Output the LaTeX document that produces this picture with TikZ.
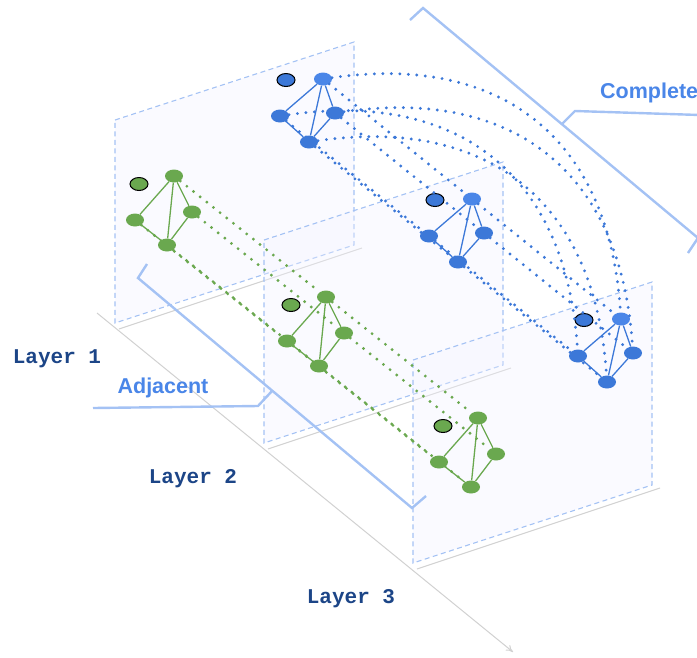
\documentclass[tikz,border=0pt]{standalone}
\usepackage{fontspec}
\setmainfont{Liberation Sans}
\newfontfamily\layerfont{Liberation Mono}
\usetikzlibrary{arrows.meta}
\usetikzlibrary{positioning}
\usetikzlibrary{shapes.geometric}
\definecolor{mygreen}{RGB}{106,168,79}
\definecolor{myblue}{RGB}{60,120,216}
\definecolor{lightblue}{RGB}{74,134,232}
\definecolor{bracecol}{RGB}{164,194,244}
\definecolor{navy}{RGB}{28,69,135}
\definecolor{planefill}{RGB}{242,242,255}

\begin{document}
\begin{tikzpicture}[x=1pt,y=-1pt,
		every node/.style={inner sep=0pt},
		vert/.style={ellipse,minimum width=18pt,minimum height=13pt,fill=#1},
		markvert/.style={vert=#1,draw=black,line width=1pt},
		tie/.style={draw=#1,line width=1.3pt},
		link/.style={draw=#1,line width=3.2pt,line cap=round,dash pattern=on 0pt off 8.5pt},
		layerplane/.style={draw=bracecol,dash pattern=on 5pt off 3.5pt,line width=1.1pt,fill=planefill,fill opacity=0.35},
		groundline/.style={draw=black!18,line width=1pt},
		bracket/.style={draw=bracecol,line width=2.4pt},
		layerlabel/.style={font=\layerfont\bfseries\fontsize{21}{21}\selectfont,text=navy,anchor=base},
		kindlabel/.style={font=\bfseries\fontsize{21.5}{22}\selectfont,text=lightblue,anchor=base}
	]

	\useasboundingbox (0,0) rectangle (697,657);

	% floor axis and the three layers
	\coordinate (axstart) at (97,313);
	\coordinate (axend) at (513,652);
	\draw[groundline,-{To[length=7pt,width=7pt]}] (axstart) -- (axend);

	\foreach \k in {0,1,2}{
		\begin{scope}[shift={(149*\k,120*\k)}]
			\draw[groundline] (119,329) -- (362,248);
			\draw[layerplane] (115,120) -- (354,42) -- (354,245) -- (115,323) -- cycle;
		\end{scope}
	}

	\foreach \k in {1,2,3}{
		\pgfmathsetmacro{\gx}{174+152*(\k-1)}
		\pgfmathsetmacro{\gy}{176+121*(\k-1)}
		\node[vert=mygreen] (g\k-t) at (\gx,\gy) {};
		\node[vert=mygreen] (g\k-l) at (\gx-39,\gy+44) {};
		\node[vert=mygreen] (g\k-r) at (\gx+18,\gy+36) {};
		\node[vert=mygreen] (g\k-b) at (\gx-7,\gy+69) {};
		\node[markvert=mygreen] (g\k-o) at (\gx-35,\gy+8) {};
		\pgfmathsetmacro{\bx}{323+149*(\k-1)}
		\pgfmathsetmacro{\by}{79+120*(\k-1)}
		\node[vert=lightblue] (b\k-t) at (\bx,\by) {};
		\node[vert=myblue] (b\k-l) at (\bx-43,\by+37) {};
		\node[vert=myblue] (b\k-r) at (\bx+12,\by+34) {};
		\node[vert=myblue] (b\k-b) at (\bx-14,\by+63) {};
		\node[markvert=myblue] (b\k-o) at (\bx-37,\by+1) {};
	}

	\foreach \k in {1,2,3}{
		\draw[tie=mygreen] (g\k-t) -- (g\k-l) -- (g\k-b) -- (g\k-r) -- (g\k-t) -- (g\k-b);
		\draw[tie=myblue] (b\k-t) -- (b\k-l) -- (b\k-b) -- (b\k-r) -- (b\k-t) -- (b\k-b);
	}

	\foreach \v in {t,l,r,b}{
		\draw[link=mygreen] (g1-\v) -- (g2-\v);
		\draw[link=mygreen] (g2-\v) -- (g3-\v);
		\draw[link=myblue] (b1-\v) -- (b2-\v);
		\draw[link=myblue] (b2-\v) -- (b3-\v);
		\draw[link=myblue] (b1-\v) .. controls +(175,-25) and +(-12,-185) .. (b3-\v);
	}

	% braces
	\coordinate (adjA) at (147,264);
	\coordinate (adjB) at (138,278);
	\coordinate (adjC) at (412,508);
	\coordinate (adjD) at (426,496);
	\coordinate (adjM) at (272,391);
	\coordinate (adjtip) at (258,406);
	\coordinate (adjend) at (93,408);
	\draw[bracket] (adjA) -- (adjB) -- (adjC) -- (adjD);
	\draw[bracket] (adjM) -- (adjtip) -- (adjend);

	\coordinate (cplA) at (410,20);
	\coordinate (cplB) at (423,8);
	\coordinate (cplC) at (698,238);
	\coordinate (cplD) at (688,253);
	\coordinate (cplM) at (562,124);
	\coordinate (cpltip) at (575,111);
	\coordinate (cplend) at (700,115);
	\draw[bracket] (cplA) -- (cplB) -- (cplC) -- (cplD);
	\draw[bracket] (cplM) -- (cpltip) -- (cplend);

	\node[layerlabel] (lay1) at (57,363) {Layer 1};
	\node[layerlabel] (lay2) at (193,483) {Layer 2};
	\node[layerlabel] (lay3) at (351,603) {Layer 3};
	\node[kindlabel] (adj) at (163,393) {Adjacent};
	\node[kindlabel,anchor=base west] (cpl) at (600,98) {Complete};

\end{tikzpicture}
\end{document}
